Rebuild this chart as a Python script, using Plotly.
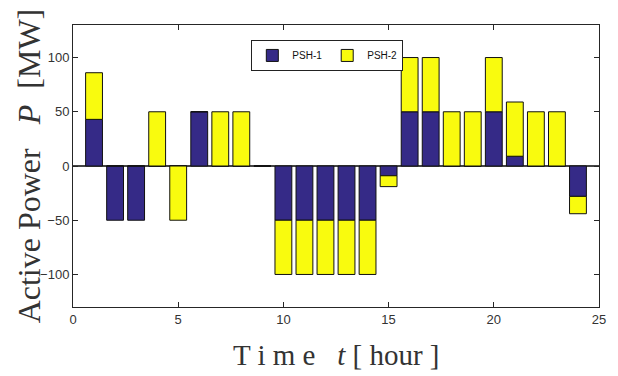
import plotly.graph_objects as go

hours = list(range(1, 25))
psh1 = [43, -50, -50, 0, 0, 50, 0, 0, 0, -50, -50, -50, -50, -50, -9,
        50, 50, 0, 0, 50, 9, 0, 0, -28]
psh2 = [43, 0, 0, 50, -50, 0, 50, 50, 0, -50, -50, -50, -50, -50, -10,
        50, 50, 50, 50, 50, 50, 50, 50, -16]
series_names = ["PSH-1", "PSH-2"]
x_ticks = [0, 5, 10, 15, 20, 25]
y_ticks = [-100, -50, 0, 50, 100]

navy = "#352A87"
yellow = "#F9FB0E"

fig = go.Figure()
fig.add_trace(go.Bar(x=hours, y=psh1, name=series_names[0], width=0.8,
                     marker=dict(color=navy, line=dict(color="#111", width=1))))
fig.add_trace(go.Bar(x=hours, y=psh2, name=series_names[1], width=0.8,
                     marker=dict(color=yellow, line=dict(color="#111", width=1))))

axis_common = dict(showline=True, linecolor="#262626", linewidth=1, mirror="ticks",
                   ticks="inside", ticklen=5, tickcolor="#262626", showgrid=False,
                   tickfont=dict(family="Liberation Sans Narrow, Liberation Sans, Arial", size=13, color="#333"))

fig.update_layout(
    barmode="relative",
    width=618, height=376,
    margin=dict(l=73, r=12, t=25, b=69),
    plot_bgcolor="white", paper_bgcolor="white",
    showlegend=True,
    legend=dict(orientation="h", x=0.339, y=0.947, xanchor="left", yanchor="top",
                bordercolor="#222", borderwidth=1, bgcolor="white",
                font=dict(family="Liberation Sans Narrow, Liberation Sans, Arial", size=10, color="#111"),
                itemwidth=30, tracegroupgap=0),
    xaxis=dict(range=[0, 25], tickvals=x_ticks, zeroline=False, **axis_common),
    yaxis=dict(range=[-130, 130], tickvals=y_ticks, zeroline=True,
               zerolinecolor="#444", zerolinewidth=1.5, **axis_common),
    annotations=[
        dict(text="Active Power \u00a0 <i>P</i> \u00a0[MW]", textangle=-90,
             xref="paper", yref="paper", x=-0.083, y=0.50, xanchor="center", yanchor="middle",
             showarrow=False,
             font=dict(family="Liberation Serif, Times New Roman", size=32, color="#333")),
        dict(text="T i m e \u00a0 <i>t</i> [ hour ]",
             xref="paper", yref="paper", x=0.5, y=-0.17, xanchor="center", yanchor="middle",
             showarrow=False,
             font=dict(family="Liberation Serif, Times New Roman", size=29, color="#333")),
    ],
)

fig.write_html("out.html")
